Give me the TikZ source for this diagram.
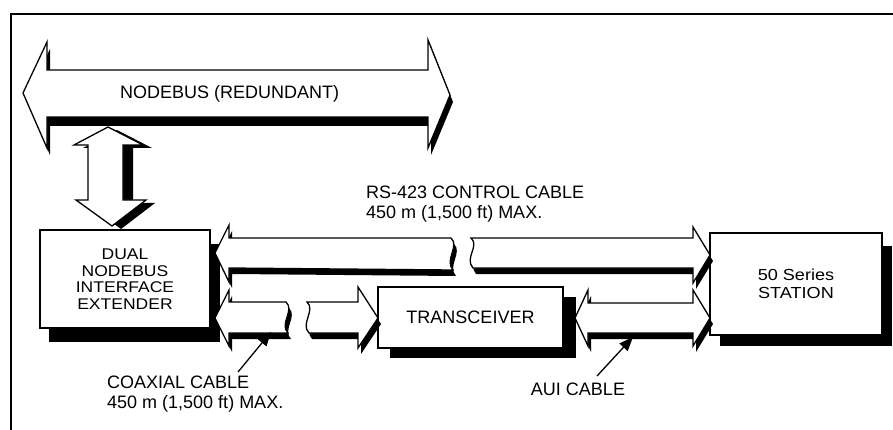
\documentclass[tikz,border=0pt]{standalone}
\usepackage{fontspec}
\setmainfont{Liberation Sans}
\newfontfamily\widefont{Liberation Sans}[FakeStretch=1.13]
\usetikzlibrary{arrows.meta,shadows}
\begin{document}
\begin{tikzpicture}[x=1pt,y=-1pt,line join=miter,
  broad/.style={draw=black,fill=white,line width=1.3pt},
  lbl/.style={font=\fontsize{18}{20}\selectfont,inner sep=0pt},
  box/.style={draw=black,fill=white,line width=1.3pt,inner sep=0pt,align=center,
    font=\fontsize{18}{20}\selectfont},
  ptr/.style={line width=1.3pt,-{Triangle[length=14pt,width=11pt]}}]
\useasboundingbox (0,0) rectangle (893,430);
% frame
\draw[line width=1.1pt] (11,430) -- (11,14) -- (893,14);

% box shadows
\fill (49,244) rectangle (220,342);
\fill (390,297) rectangle (576,358);
\fill (720,246) rectangle (892,346);

% boxes
\node[box,minimum width=170pt,minimum height=98pt,
  font=\widefont\fontsize{15.5}{16.6}\selectfont] (dnie) at (125,279)
  {DUAL\\NODEBUS\\INTERFACE\\EXTENDER};
\node[box,minimum width=185pt,minimum height=61pt] (trx) at (470.5,317.5) {TRANSCEIVER};
\node[box,minimum width=172pt,minimum height=102pt,
  font=\widefont\fontsize{16}{18.5}\selectfont] (stn) at (796,284) {50 Series\\STATION};

% nodebus broad arrow
\fill (26,100) -- (50,49) -- (50,77) -- (431,77) -- (431,46) -- (453,102) -- (431,155)
  -- (431,126) -- (50,126) -- (50,155) -- cycle;
\draw[broad] (23,93) -- (47,42) -- (47,70) -- (428,70) -- (428,40) -- (450,95) -- (428,148)
  -- (428,117) -- (47,117) -- (47,148) -- cycle;

% vertical broad arrow
\fill (117,130) -- (152,148) -- (133,148) -- (133,203) -- (155,203) -- (121,229)
  -- (85,203) -- (97,203) -- (97,148) -- (83,148) -- cycle;
\draw[broad] (108,127) -- (143,145) -- (123,145) -- (123,200) -- (146,200) -- (112,226)
  -- (76,200) -- (88,200) -- (88,145) -- (74,145) -- cycle;

% RS-423 control cable (broken)
\fill (218,259) -- (232,231) -- (232,244) -- (454,244) .. controls (463,252) and (447,266) .. (456,276)
  -- (232,274) -- (232,288) -- cycle;
\draw[broad] (215,253) -- (229,225) -- (229,238) -- (451,238) .. controls (460,246) and (444,260) .. (453,270)
  -- (229,268) -- (229,282) -- cycle;
\fill (474,244) -- (696,244) -- (696,233) -- (713,261) -- (696,289) -- (696,274) -- (476,274)
  .. controls (467,264) and (483,252) .. (474,244);
\draw[broad] (471,238) -- (693,238) -- (693,227) -- (710,255) -- (693,283) -- (693,268) -- (473,268)
  .. controls (464,258) and (480,246) .. (471,238) -- cycle;

% coaxial cable (broken)
\fill (218,324) -- (232,296) -- (232,308) -- (289,308) .. controls (298,316) and (282,330) .. (291,339)
  -- (232,339) -- (232,352) -- cycle;
\draw[broad] (215,318) -- (229,290) -- (229,302) -- (286,302) .. controls (295,310) and (279,324) .. (288,333)
  -- (229,333) -- (229,346) -- cycle;
\fill (310,308) -- (361,308) -- (361,293) -- (381,324) -- (361,354) -- (361,339) -- (312,339)
  .. controls (303,330) and (319,316) .. (310,308);
\draw[broad] (307,302) -- (358,302) -- (358,287) -- (378,318) -- (358,348) -- (358,333) -- (309,333)
  .. controls (300,324) and (316,310) .. (307,302) -- cycle;

% AUI cable
\fill (578,324) -- (591,296) -- (591,309) -- (696,309) -- (696,296) -- (713,324) -- (696,352)
  -- (696,339) -- (591,339) -- (591,352) -- cycle;
\draw[broad] (575,318) -- (588,290) -- (588,303) -- (693,303) -- (693,290) -- (710,318) -- (693,346)
  -- (693,333) -- (588,333) -- (588,346) -- cycle;

% labels
\node[lbl,anchor=west] (nbl) at (120,94) {NODEBUS (REDUNDANT)};
\node[lbl,anchor=west,align=left] (rsl) at (366,204) {RS-423 CONTROL CABLE\\450 m (1,500 ft) MAX.};
\node[lbl,anchor=west,align=left] (cxl) at (107,394) {COAXIAL CABLE\\450 m (1,500 ft) MAX.};
\node[lbl] (auil) at (578,389) {AUI CABLE};

% pointers
\coordinate (cxs) at (238,372);
\coordinate (cxe) at (271,332);
\coordinate (aus) at (597,376);
\coordinate (aue) at (633,337);
\draw[ptr] (cxs) -- (cxe);
\draw[ptr] (aus) -- (aue);
\end{tikzpicture}
\end{document}
